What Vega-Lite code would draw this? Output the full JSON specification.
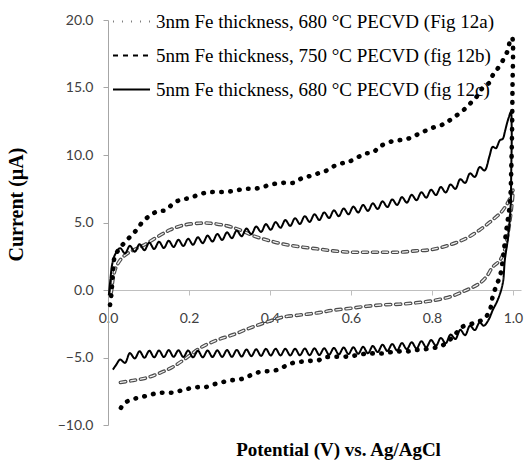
{
  "$schema": "https://vega.github.io/schema/vega-lite/v6.json",
  "width": 413,
  "height": 405,
  "autosize": {"type": "none"},
  "padding": {"left": 108, "top": 20, "right": 3, "bottom": 35},
  "background": "white",
  "config": {
    "view": {"stroke": null},
    "legend": {
      "orient": "none", "legendX": 4, "legendY": -18, "title": null, "padding": 0,
      "symbolType": "stroke", "symbolSize": 1369, "symbolStrokeWidth": 2, "symbolStrokeColor": "black",
      "labelFont": "Liberation Serif", "labelFontSize": 19, "labelColor": "black", "labelOffset": 5,
      "rowPadding": 4, "labelLimit": 0
    }
  },
  "datasets": {
    "a": [
      {"x":0.005,"y":-1.1},{"x":0.008,"y":-0.4},{"x":0.012,"y":1.2},{"x":0.017,"y":2.5},{"x":0.032,"y":3.2},{"x":0.05,"y":3.8},{"x":0.069,"y":4.4},{"x":0.087,"y":5.1},{"x":0.108,"y":5.6},{"x":0.124,"y":5.85},{"x":0.142,"y":5.9},{"x":0.161,"y":6.4},{"x":0.18,"y":6.7},{"x":0.2,"y":6.8},{"x":0.219,"y":7.0},{"x":0.24,"y":7.2},{"x":0.26,"y":7.26},{"x":0.28,"y":7.26},{"x":0.3,"y":7.3},{"x":0.32,"y":7.4},{"x":0.34,"y":7.5},{"x":0.36,"y":7.5},{"x":0.38,"y":7.6},{"x":0.4,"y":7.8},{"x":0.42,"y":7.9},{"x":0.44,"y":7.95},{"x":0.46,"y":7.95},{"x":0.48,"y":8.3},{"x":0.5,"y":8.45},{"x":0.52,"y":8.65},{"x":0.54,"y":8.85},{"x":0.56,"y":9.2},{"x":0.58,"y":9.4},{"x":0.595,"y":9.5},{"x":0.615,"y":9.8},{"x":0.635,"y":10.1},{"x":0.655,"y":10.2},{"x":0.67,"y":10.6},{"x":0.7,"y":11.0},{"x":0.74,"y":11.2},{"x":0.77,"y":11.6},{"x":0.8,"y":12.0},{"x":0.83,"y":12.3},{"x":0.85,"y":12.7},{"x":0.877,"y":13.3},{"x":0.894,"y":13.8},{"x":0.91,"y":14.3},{"x":0.926,"y":15.0},{"x":0.943,"y":15.4},{"x":0.95,"y":15.9},{"x":0.96,"y":16.3},{"x":0.975,"y":17.0},{"x":0.988,"y":17.8},{"x":0.993,"y":18.5},{"x":0.998,"y":18.7},{"x":1.0,"y":18.3},{"x":0.999,"y":15},{"x":0.998,"y":12},{"x":0.996,"y":9},{"x":0.993,"y":6.5},{"x":0.985,"y":4.7},{"x":0.98,"y":3.5},{"x":0.975,"y":2.2},{"x":0.968,"y":1.0},{"x":0.96,"y":0.4},{"x":0.95,"y":-0.5},{"x":0.943,"y":-1.5},{"x":0.93,"y":-2.1},{"x":0.91,"y":-2.4},{"x":0.877,"y":-2.7},{"x":0.857,"y":-3.3},{"x":0.84,"y":-3.8},{"x":0.82,"y":-4.2},{"x":0.8,"y":-4.3},{"x":0.78,"y":-4.4},{"x":0.76,"y":-4.45},{"x":0.74,"y":-4.55},{"x":0.72,"y":-4.55},{"x":0.7,"y":-4.6},{"x":0.68,"y":-4.7},{"x":0.66,"y":-4.7},{"x":0.64,"y":-4.7},{"x":0.62,"y":-4.8},{"x":0.6,"y":-4.9},{"x":0.58,"y":-4.95},{"x":0.555,"y":-4.95},{"x":0.535,"y":-5.0},{"x":0.52,"y":-5.2},{"x":0.5,"y":-5.25},{"x":0.48,"y":-5.3},{"x":0.457,"y":-5.4},{"x":0.44,"y":-5.6},{"x":0.42,"y":-5.9},{"x":0.4,"y":-6.0},{"x":0.38,"y":-6.05},{"x":0.36,"y":-6.2},{"x":0.34,"y":-6.5},{"x":0.32,"y":-6.65},{"x":0.3,"y":-6.7},{"x":0.28,"y":-6.85},{"x":0.26,"y":-7.0},{"x":0.24,"y":-7.2},{"x":0.22,"y":-7.2},{"x":0.2,"y":-7.3},{"x":0.18,"y":-7.45},{"x":0.16,"y":-7.6},{"x":0.14,"y":-7.6},{"x":0.12,"y":-7.65},{"x":0.1,"y":-7.8},{"x":0.08,"y":-7.95},{"x":0.06,"y":-8.1},{"x":0.04,"y":-8.4},{"x":0.027,"y":-9.0}
    ],
    "b": [
      {"x":0.008,"y":-0.2},{"x":0.01,"y":0.2},{"x":0.012,"y":0.75},{"x":0.02,"y":1.7},{"x":0.037,"y":2.45},{"x":0.062,"y":2.95},{"x":0.087,"y":3.3},{"x":0.12,"y":3.9},{"x":0.153,"y":4.45},{"x":0.186,"y":4.8},{"x":0.227,"y":4.95},{"x":0.25,"y":4.95},{"x":0.294,"y":4.75},{"x":0.326,"y":4.45},{"x":0.36,"y":4.0},{"x":0.393,"y":3.7},{"x":0.433,"y":3.4},{"x":0.474,"y":3.2},{"x":0.516,"y":3.05},{"x":0.556,"y":2.9},{"x":0.6,"y":2.8},{"x":0.64,"y":2.8},{"x":0.68,"y":2.8},{"x":0.72,"y":2.8},{"x":0.76,"y":2.9},{"x":0.8,"y":3.0},{"x":0.845,"y":3.35},{"x":0.886,"y":3.85},{"x":0.918,"y":4.45},{"x":0.95,"y":5.2},{"x":0.975,"y":5.9},{"x":0.993,"y":6.8},{"x":1.0,"y":7.4},{"x":0.997,"y":6.2},{"x":0.988,"y":4.2},{"x":0.98,"y":3.0},{"x":0.968,"y":2.2},{"x":0.95,"y":1.7},{"x":0.935,"y":1.0},{"x":0.918,"y":0.5},{"x":0.886,"y":0.0},{"x":0.845,"y":-0.5},{"x":0.8,"y":-0.8},{"x":0.76,"y":-0.95},{"x":0.72,"y":-1.05},{"x":0.68,"y":-1.1},{"x":0.64,"y":-1.2},{"x":0.6,"y":-1.35},{"x":0.556,"y":-1.5},{"x":0.516,"y":-1.7},{"x":0.474,"y":-1.85},{"x":0.433,"y":-2.0},{"x":0.41,"y":-2.2},{"x":0.375,"y":-2.55},{"x":0.343,"y":-2.9},{"x":0.31,"y":-3.3},{"x":0.27,"y":-3.7},{"x":0.227,"y":-4.3},{"x":0.195,"y":-5.0},{"x":0.16,"y":-5.7},{"x":0.128,"y":-6.15},{"x":0.096,"y":-6.5},{"x":0.062,"y":-6.7},{"x":0.03,"y":-6.85}
    ],
    "c": [
      {"x":0.002,"y":-0.4},{"x":0.006,"y":0.8},{"x":0.01,"y":1.85},{"x":0.017,"y":2.6},
      {"x":0.030,"y":3.10},{"x":0.042,"y":2.71},{"x":0.054,"y":3.27},{"x":0.066,"y":2.83},{"x":0.078,"y":3.39},{"x":0.090,"y":2.95},{"x":0.102,"y":3.51},{"x":0.114,"y":3.04},{"x":0.126,"y":3.58},{"x":0.138,"y":3.11},{"x":0.150,"y":3.65},{"x":0.162,"y":3.19},{"x":0.174,"y":3.72},{"x":0.186,"y":3.26},{"x":0.198,"y":3.79},{"x":0.210,"y":3.35},{"x":0.222,"y":3.91},{"x":0.234,"y":3.47},{"x":0.246,"y":4.03},{"x":0.258,"y":3.59},{"x":0.270,"y":4.15},{"x":0.282,"y":3.71},{"x":0.294,"y":4.27},{"x":0.306,"y":3.84},{"x":0.318,"y":4.41},{"x":0.330,"y":3.98},{"x":0.342,"y":4.55},{"x":0.354,"y":4.13},{"x":0.366,"y":4.71},{"x":0.378,"y":4.30},{"x":0.390,"y":4.88},{"x":0.402,"y":4.46},{"x":0.414,"y":5.03},{"x":0.426,"y":4.61},{"x":0.438,"y":5.18},{"x":0.450,"y":4.75},{"x":0.462,"y":5.32},{"x":0.474,"y":4.89},{"x":0.486,"y":5.47},{"x":0.498,"y":5.04},{"x":0.510,"y":5.61},{"x":0.522,"y":5.18},{"x":0.534,"y":5.75},{"x":0.546,"y":5.33},{"x":0.558,"y":5.90},{"x":0.570,"y":5.47},{"x":0.582,"y":6.04},{"x":0.594,"y":5.61},{"x":0.606,"y":6.18},{"x":0.618,"y":5.74},{"x":0.630,"y":6.30},{"x":0.642,"y":5.86},{"x":0.654,"y":6.42},{"x":0.666,"y":6.00},{"x":0.678,"y":6.57},{"x":0.690,"y":6.14},{"x":0.702,"y":6.71},{"x":0.714,"y":6.30},{"x":0.726,"y":6.88},{"x":0.738,"y":6.47},{"x":0.750,"y":7.05},{"x":0.762,"y":6.65},{"x":0.774,"y":7.24},{"x":0.786,"y":6.84},{"x":0.798,"y":7.43},{"x":0.810,"y":7.03},{"x":0.822,"y":7.63},{"x":0.834,"y":7.22},{"x":0.846,"y":7.82},{"x":0.858,"y":7.49},{"x":0.870,"y":8.21},{"x":0.882,"y":7.93},{"x":0.894,"y":8.64},{"x":0.906,"y":8.37},{"x":0.918,"y":9.11},{"x":0.930,"y":8.85},{"x":0.942,"y":9.9},{"x":0.950,"y":10.6},{"x":0.958,"y":10.5},{"x":0.968,"y":11.1},{"x":0.975,"y":11.2},{"x":0.980,"y":11.7},{"x":0.985,"y":12.3},{"x":0.990,"y":12.8},{"x":0.995,"y":13.2},
      {"x":0.997,"y":12.0},{"x":0.996,"y":9.0},{"x":0.994,"y":6.0},{"x":0.988,"y":3.9},{"x":0.980,"y":2.2},{"x":0.975,"y":0.5},{"x":0.963,"y":-0.7},{"x":0.950,"y":-1.5},{"x":0.940,"y":-2.2},{"x":0.928,"y":-2.65},
      {"x":0.918,"y":-2.40},{"x":0.906,"y":-2.97},{"x":0.894,"y":-2.65},{"x":0.882,"y":-3.35},{"x":0.870,"y":-2.95},{"x":0.858,"y":-3.63},{"x":0.846,"y":-3.30},{"x":0.834,"y":-3.95},{"x":0.822,"y":-3.55},{"x":0.810,"y":-4.13},{"x":0.798,"y":-3.71},{"x":0.786,"y":-4.25},{"x":0.774,"y":-3.79},{"x":0.762,"y":-4.34},{"x":0.750,"y":-3.87},{"x":0.738,"y":-4.39},{"x":0.726,"y":-3.93},{"x":0.714,"y":-4.48},{"x":0.702,"y":-4.00},{"x":0.690,"y":-4.52},{"x":0.678,"y":-4.05},{"x":0.666,"y":-4.60},{"x":0.654,"y":-4.15},{"x":0.642,"y":-4.69},{"x":0.630,"y":-4.21},{"x":0.618,"y":-4.73},{"x":0.606,"y":-4.24},{"x":0.594,"y":-4.75},{"x":0.582,"y":-4.26},{"x":0.570,"y":-4.77},{"x":0.558,"y":-4.29},{"x":0.546,"y":-4.80},{"x":0.534,"y":-4.31},{"x":0.522,"y":-4.82},{"x":0.510,"y":-4.32},{"x":0.498,"y":-4.83},{"x":0.486,"y":-4.33},{"x":0.474,"y":-4.84},{"x":0.462,"y":-4.35},{"x":0.450,"y":-4.85},{"x":0.438,"y":-4.35},{"x":0.426,"y":-4.85},{"x":0.414,"y":-4.35},{"x":0.402,"y":-4.85},{"x":0.390,"y":-4.36},{"x":0.378,"y":-4.88},{"x":0.366,"y":-4.39},{"x":0.354,"y":-4.90},{"x":0.342,"y":-4.41},{"x":0.330,"y":-4.93},{"x":0.318,"y":-4.44},{"x":0.306,"y":-4.95},{"x":0.294,"y":-4.45},{"x":0.282,"y":-4.96},{"x":0.270,"y":-4.47},{"x":0.258,"y":-4.97},{"x":0.246,"y":-4.48},{"x":0.234,"y":-4.99},{"x":0.222,"y":-4.50},{"x":0.210,"y":-4.99},{"x":0.198,"y":-4.48},{"x":0.186,"y":-4.97},{"x":0.174,"y":-4.46},{"x":0.162,"y":-4.95},{"x":0.150,"y":-4.45},{"x":0.138,"y":-4.97},{"x":0.126,"y":-4.48},{"x":0.114,"y":-4.99},{"x":0.102,"y":-4.50},{"x":0.090,"y":-5.02},{"x":0.078,"y":-4.54},{"x":0.066,"y":-5.07},{"x":0.054,"y":-4.67},{"x":0.042,"y":-5.40},{"x":0.030,"y":-5.15},{"x":0.020,"y":-5.55},{"x":0.012,"y":-5.9}
    ]
  },
  "encoding": {
    "x": {
      "field": "x", "type": "quantitative",
      "scale": {"domain": [0, 1.02], "nice": false, "zero": false},
      "axis": {
        "values": [0, 0.2, 0.4, 0.6, 0.8, 1.0], "format": ".1f", "offset": -135,
        "grid": false, "domainColor": "#bfbfbf", "tickColor": "#bfbfbf", "tickSize": 5,
        "labelPadding": 16, "labelFont": "Lato", "labelFontSize": 14, "labelColor": "#404040", "labelFlush": false,
        "title": "Potential (V) vs. Ag/AgCl", "titleFont": "Liberation Serif", "titleFontSize": 19, "titleFontWeight": "bold",
        "titleColor": "black", "titleX": 230, "titleY": 165, "titleBaseline": "alphabetic", "titleAlign": "center"
      }
    },
    "y": {
      "field": "y", "type": "quantitative",
      "scale": {"domain": [-10, 20], "nice": false, "zero": false},
      "axis": {
        "values": [-10, -5, 0, 5, 10, 15, 20], "format": ".1f",
        "grid": false, "domainColor": "#a6a6a6", "tickColor": "#a6a6a6", "tickSize": 5,
        "labelPadding": 10, "labelFont": "Lato", "labelFontSize": 14, "labelColor": "#404040", "labelFlush": false,
        "title": "Current (µA)", "titleFont": "Liberation Serif", "titleFontSize": 20, "titleFontWeight": "bold",
        "titleColor": "black", "titleX": -92, "titleY": 184, "titleBaseline": "middle", "titleAlign": "center"
      }
    },
    "order": {"value": null}
  },
  "layer": [
    {
      "data": {"name": "b"},
      "mark": {"type": "line", "color": "#4d4d4d", "strokeWidth": 3.6, "strokeCap": "round", "interpolate": "catmull-rom"},
      "encoding": {
        "strokeDash": {
          "datum": "5nm Fe thickness, 750 °C PECVD (fig 12b)", "type": "nominal",
          "scale": {
            "domain": ["3nm Fe thickness, 680 °C PECVD (Fig 12a)", "5nm Fe thickness, 750 °C PECVD (fig 12b)", "5nm Fe thickness, 680 °C PECVD (fig 12c)"],
            "range": [[0.5, 8.5], [5, 5], [1, 0]]
          }
        }
      }
    },
    {
      "data": {"name": "b"},
      "mark": {"type": "line", "color": "#f2f2f2", "strokeWidth": 1.3, "strokeCap": "round", "strokeDash": [5, 5], "interpolate": "catmull-rom"},
      "encoding": {}
    },
    {
      "data": {"name": "c"},
      "mark": {"type": "line", "color": "black", "strokeWidth": 2, "interpolate": "catmull-rom"},
      "encoding": {
        "strokeDash": {"datum": "5nm Fe thickness, 680 °C PECVD (fig 12c)", "type": "nominal"}
      }
    },
    {
      "data": {"name": "a"},
      "mark": {"type": "line", "color": "black", "strokeWidth": 4.6, "strokeCap": "round", "interpolate": "catmull-rom"},
      "encoding": {
        "strokeDash": {"datum": "3nm Fe thickness, 680 °C PECVD (Fig 12a)", "type": "nominal"}
      }
    }
  ]
}
